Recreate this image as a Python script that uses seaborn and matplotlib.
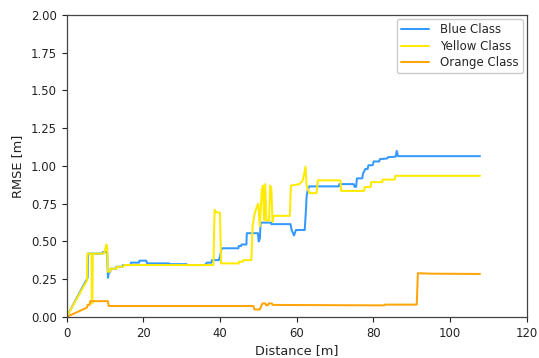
import matplotlib
matplotlib.use("Agg")
import matplotlib.pyplot as plt
import seaborn as sns
import pandas as pd

# RMSE along the travelled distance for each class (polyline vertices)
blue_x = [0, 5.5, 5.6, 9.4, 9.5, 10.6, 10.8, 11.0, 11.4, 11.5, 12.9, 13.0, 14.6, 14.7,
          16.7, 16.8, 18.9, 19.0, 20.8, 21.0, 26.7, 26.8, 31.3, 31.4, 36.1, 36.3, 36.6,
          37.8, 37.9, 39.7, 40.0, 40.3, 40.5, 44.8, 44.9, 45.5, 45.6, 46.9, 47.0, 49.9,
          50.1, 50.4, 50.6, 53.3, 53.4, 58.4, 58.7, 59.3, 59.6, 59.8, 62.1, 62.4, 62.6,
          62.9, 63.3, 71.0, 71.1, 74.9, 75.1, 75.5, 75.7, 77.1, 77.3, 77.9, 78.5, 78.7,
          79.8, 80.1, 81.5, 81.7, 83.6, 83.8, 85.8, 86.1, 86.4, 107.8]
blue_y = [0, 0.26, 0.42, 0.42, 0.43, 0.43, 0.26, 0.29, 0.30, 0.32, 0.32, 0.333, 0.333, 0.344,
          0.344, 0.36, 0.36, 0.373, 0.373, 0.355, 0.355, 0.35, 0.35, 0.344, 0.344, 0.352, 0.36,
          0.36, 0.377, 0.377, 0.40, 0.44, 0.455, 0.455, 0.47, 0.47, 0.48, 0.48, 0.555, 0.555,
          0.50, 0.52, 0.625, 0.625, 0.615, 0.615, 0.575, 0.54, 0.56, 0.576, 0.576, 0.70, 0.80,
          0.84, 0.865, 0.865, 0.88, 0.88, 0.862, 0.862, 0.918, 0.918, 0.95, 0.98, 0.98, 1.005,
          1.005, 1.03, 1.03, 1.045, 1.05, 1.058, 1.062, 1.10, 1.065, 1.065]

yellow_x = [0, 5.3, 5.45, 6.5, 6.6, 6.75, 6.85, 9.8, 10.0, 10.4, 10.6, 10.8, 11.3, 11.5,
            13.0, 13.2, 14.8, 15.0, 38.3, 38.6, 39.0, 40.0, 40.3, 44.9, 45.0, 46.0, 46.1,
            48.2, 48.5, 49.0, 49.6, 50.0, 50.4, 50.9, 51.2, 51.5, 51.8, 52.1, 52.8, 53.1,
            53.4, 53.7, 54.0, 58.2, 58.5, 60.7, 61.5, 61.9, 62.3, 62.6, 63.0, 63.4, 65.2,
            65.5, 71.4, 71.6, 77.6, 77.7, 79.3, 79.4, 82.3, 82.4, 85.6, 85.7, 107.8]
yellow_y = [0, 0.24, 0.42, 0.42, 0.09, 0.09, 0.42, 0.42, 0.44, 0.48, 0.46, 0.30, 0.30, 0.32,
            0.32, 0.333, 0.333, 0.344, 0.344, 0.71, 0.695, 0.69, 0.355, 0.355, 0.366, 0.366, 0.377,
            0.377, 0.60, 0.68, 0.73, 0.75, 0.60, 0.84, 0.87, 0.64, 0.88, 0.64, 0.64, 0.87,
            0.85, 0.63, 0.67, 0.67, 0.87, 0.88, 0.90, 0.94, 0.995, 0.87, 0.84, 0.82, 0.82,
            0.905, 0.905, 0.835, 0.835, 0.86, 0.86, 0.893, 0.893, 0.91, 0.91, 0.935, 0.935]

orange_x = [0, 5.3, 5.5, 6.0, 6.2, 10.8, 11.0, 48.7, 49.0, 50.4, 50.8, 51.1, 51.8, 52.0,
            52.5, 52.7, 53.5, 53.8, 82.8, 83.0, 91.3, 91.6, 95.0, 107.8]
orange_y = [0, 0.062, 0.08, 0.08, 0.105, 0.105, 0.073, 0.073, 0.05, 0.05, 0.075, 0.09, 0.09, 0.078,
            0.078, 0.09, 0.09, 0.08, 0.077, 0.082, 0.082, 0.29, 0.287, 0.285]

class_names = ["Blue Class", "Yellow Class", "Orange Class"]
class_colors = ["#3399ff", "#ffea00", "#ffa50a"]

frames = []
for name, xs, ys in zip(class_names,
                        [blue_x, yellow_x, orange_x],
                        [blue_y, yellow_y, orange_y]):
    frames.append(pd.DataFrame({"Distance": xs, "RMSE": ys, "Class": name}))
df = pd.concat(frames, ignore_index=True)

sns.set_theme(style="ticks")
plt.rcParams["font.family"] = ["DejaVu Sans"]

fig = plt.figure(figsize=(5.39, 3.58), dpi=100)
ax = fig.add_axes([0.1234, 0.1145, 0.8540, 0.8437])

sns.lineplot(data=df, x="Distance", y="RMSE", hue="Class",
             palette=dict(zip(class_names, class_colors)),
             hue_order=class_names, sort=False, estimator=None,
             linewidth=1.45, ax=ax)

ax.set_xlim(0, 120)
ax.set_ylim(0, 2.0)
ax.set_xticks([0, 20, 40, 60, 80, 100, 120])
ax.set_yticks([0, 0.25, 0.5, 0.75, 1.0, 1.25, 1.5, 1.75, 2.0])
ax.set_yticklabels([f"{v:.2f}" for v in ax.get_yticks()])
ax.set_xlabel("Distance [m]", fontsize=9.3, color="#222222", labelpad=3)
ax.set_ylabel("RMSE [m]", fontsize=9.3, color="#222222", labelpad=5)
ax.tick_params(labelsize=8.4, colors="#222222", length=3.5, width=0.8)
for side in ["top", "right", "left", "bottom"]:
    ax.spines[side].set_visible(True)
    ax.spines[side].set_color("#444444")
    ax.spines[side].set_linewidth(0.9)

handles, labels = ax.get_legend_handles_labels()
ax.legend(handles, labels, loc="upper right", fontsize=8.5, frameon=True,
          fancybox=True, edgecolor="#cccccc", framealpha=1.0,
          handlelength=2.4, handletextpad=0.9, labelspacing=0.3,
          borderaxespad=0.35, borderpad=0.35)

fig.savefig("out.png", dpi=100)
